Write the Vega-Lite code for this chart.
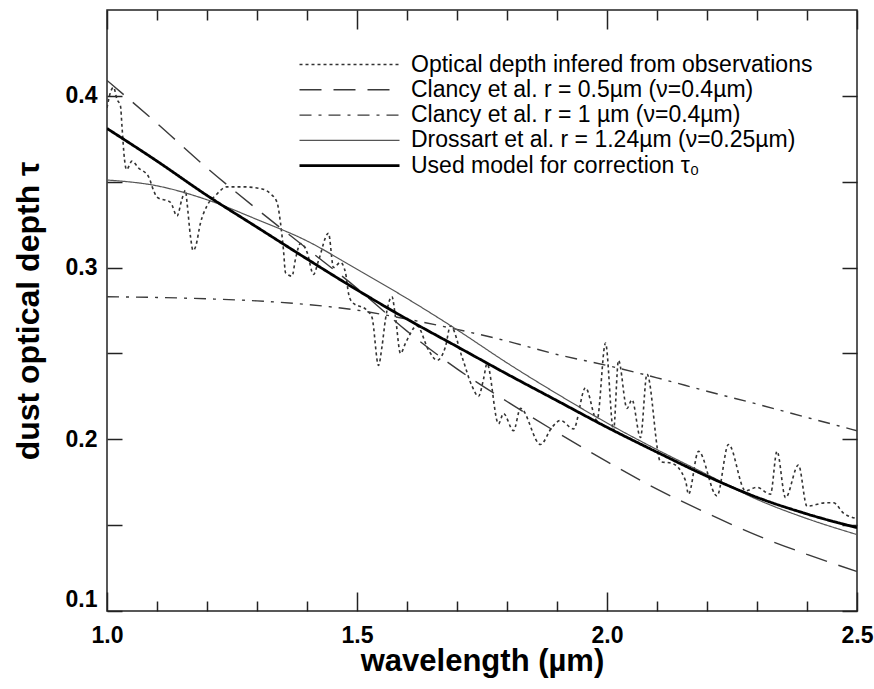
{
  "$schema": "https://vega.github.io/schema/vega-lite/v6.json",
  "width": 750,
  "height": 601,
  "autosize": {"type": "none"},
  "padding": {"left": 107, "top": 10, "right": 17, "bottom": 78},
  "background": "white",
  "config": {
    "font": "Liberation Sans",
    "view": {"stroke": "#222", "strokeWidth": 1.5},
    "axis": {
      "domain": false, "grid": false, "tickColor": "#222", "tickWidth": 1.5,
      "labelFont": "Liberation Sans", "labelFontWeight": "bold", "labelFontSize": 23, "labelColor": "#000",
      "titleFont": "Liberation Sans", "titleFontWeight": "bold", "titleFontSize": 32, "titleColor": "#000",
      "labelOverlap": false
    }
  },
  "data": {"values": [
    {"series": "obs", "wavelength": 1.000, "tau": 0.393},
    {"series": "obs", "wavelength": 1.008, "tau": 0.403},
    {"series": "obs", "wavelength": 1.013, "tau": 0.405},
    {"series": "obs", "wavelength": 1.020, "tau": 0.398},
    {"series": "obs", "wavelength": 1.027, "tau": 0.394},
    {"series": "obs", "wavelength": 1.030, "tau": 0.382},
    {"series": "obs", "wavelength": 1.035, "tau": 0.363},
    {"series": "obs", "wavelength": 1.039, "tau": 0.357},
    {"series": "obs", "wavelength": 1.050, "tau": 0.362},
    {"series": "obs", "wavelength": 1.063, "tau": 0.358},
    {"series": "obs", "wavelength": 1.083, "tau": 0.353},
    {"series": "obs", "wavelength": 1.093, "tau": 0.345},
    {"series": "obs", "wavelength": 1.100, "tau": 0.341},
    {"series": "obs", "wavelength": 1.127, "tau": 0.338},
    {"series": "obs", "wavelength": 1.140, "tau": 0.330},
    {"series": "obs", "wavelength": 1.150, "tau": 0.340},
    {"series": "obs", "wavelength": 1.157, "tau": 0.345},
    {"series": "obs", "wavelength": 1.160, "tau": 0.338},
    {"series": "obs", "wavelength": 1.167, "tau": 0.318},
    {"series": "obs", "wavelength": 1.172, "tau": 0.310},
    {"series": "obs", "wavelength": 1.177, "tau": 0.312},
    {"series": "obs", "wavelength": 1.187, "tau": 0.326},
    {"series": "obs", "wavelength": 1.200, "tau": 0.336},
    {"series": "obs", "wavelength": 1.217, "tau": 0.342},
    {"series": "obs", "wavelength": 1.240, "tau": 0.347},
    {"series": "obs", "wavelength": 1.273, "tau": 0.347},
    {"series": "obs", "wavelength": 1.307, "tau": 0.346},
    {"series": "obs", "wavelength": 1.327, "tau": 0.343},
    {"series": "obs", "wavelength": 1.340, "tau": 0.338},
    {"series": "obs", "wavelength": 1.347, "tau": 0.326},
    {"series": "obs", "wavelength": 1.353, "tau": 0.310},
    {"series": "obs", "wavelength": 1.357, "tau": 0.297},
    {"series": "obs", "wavelength": 1.370, "tau": 0.295},
    {"series": "obs", "wavelength": 1.377, "tau": 0.305},
    {"series": "obs", "wavelength": 1.387, "tau": 0.314},
    {"series": "obs", "wavelength": 1.400, "tau": 0.309},
    {"series": "obs", "wavelength": 1.413, "tau": 0.296},
    {"series": "obs", "wavelength": 1.423, "tau": 0.304},
    {"series": "obs", "wavelength": 1.443, "tau": 0.320},
    {"series": "obs", "wavelength": 1.453, "tau": 0.300},
    {"series": "obs", "wavelength": 1.467, "tau": 0.303},
    {"series": "obs", "wavelength": 1.477, "tau": 0.297},
    {"series": "obs", "wavelength": 1.483, "tau": 0.285},
    {"series": "obs", "wavelength": 1.490, "tau": 0.280},
    {"series": "obs", "wavelength": 1.520, "tau": 0.275},
    {"series": "obs", "wavelength": 1.530, "tau": 0.271},
    {"series": "obs", "wavelength": 1.543, "tau": 0.243},
    {"series": "obs", "wavelength": 1.550, "tau": 0.254},
    {"series": "obs", "wavelength": 1.557, "tau": 0.270},
    {"series": "obs", "wavelength": 1.570, "tau": 0.283},
    {"series": "obs", "wavelength": 1.577, "tau": 0.271},
    {"series": "obs", "wavelength": 1.587, "tau": 0.250},
    {"series": "obs", "wavelength": 1.597, "tau": 0.256},
    {"series": "obs", "wavelength": 1.620, "tau": 0.266},
    {"series": "obs", "wavelength": 1.643, "tau": 0.252},
    {"series": "obs", "wavelength": 1.660, "tau": 0.246},
    {"series": "obs", "wavelength": 1.677, "tau": 0.254},
    {"series": "obs", "wavelength": 1.687, "tau": 0.266},
    {"series": "obs", "wavelength": 1.710, "tau": 0.248},
    {"series": "obs", "wavelength": 1.730, "tau": 0.231},
    {"series": "obs", "wavelength": 1.743, "tau": 0.225},
    {"series": "obs", "wavelength": 1.753, "tau": 0.235},
    {"series": "obs", "wavelength": 1.760, "tau": 0.244},
    {"series": "obs", "wavelength": 1.783, "tau": 0.209},
    {"series": "obs", "wavelength": 1.793, "tau": 0.215},
    {"series": "obs", "wavelength": 1.813, "tau": 0.205},
    {"series": "obs", "wavelength": 1.827, "tau": 0.218},
    {"series": "obs", "wavelength": 1.867, "tau": 0.197},
    {"series": "obs", "wavelength": 1.890, "tau": 0.207},
    {"series": "obs", "wavelength": 1.907, "tau": 0.211},
    {"series": "obs", "wavelength": 1.933, "tau": 0.206},
    {"series": "obs", "wavelength": 1.957, "tau": 0.230},
    {"series": "obs", "wavelength": 1.980, "tau": 0.211},
    {"series": "obs", "wavelength": 1.997, "tau": 0.256},
    {"series": "obs", "wavelength": 2.013, "tau": 0.205},
    {"series": "obs", "wavelength": 2.023, "tau": 0.246},
    {"series": "obs", "wavelength": 2.040, "tau": 0.218},
    {"series": "obs", "wavelength": 2.050, "tau": 0.223},
    {"series": "obs", "wavelength": 2.067, "tau": 0.201},
    {"series": "obs", "wavelength": 2.080, "tau": 0.238},
    {"series": "obs", "wavelength": 2.107, "tau": 0.187},
    {"series": "obs", "wavelength": 2.130, "tau": 0.186},
    {"series": "obs", "wavelength": 2.157, "tau": 0.176},
    {"series": "obs", "wavelength": 2.163, "tau": 0.168},
    {"series": "obs", "wavelength": 2.183, "tau": 0.193},
    {"series": "obs", "wavelength": 2.220, "tau": 0.167},
    {"series": "obs", "wavelength": 2.243, "tau": 0.197},
    {"series": "obs", "wavelength": 2.277, "tau": 0.170},
    {"series": "obs", "wavelength": 2.300, "tau": 0.172},
    {"series": "obs", "wavelength": 2.327, "tau": 0.168},
    {"series": "obs", "wavelength": 2.340, "tau": 0.193},
    {"series": "obs", "wavelength": 2.357, "tau": 0.166},
    {"series": "obs", "wavelength": 2.383, "tau": 0.185},
    {"series": "obs", "wavelength": 2.400, "tau": 0.161},
    {"series": "obs", "wavelength": 2.437, "tau": 0.163},
    {"series": "obs", "wavelength": 2.453, "tau": 0.163},
    {"series": "obs", "wavelength": 2.473, "tau": 0.157},
    {"series": "obs", "wavelength": 2.497, "tau": 0.154},

    {"series": "c05", "wavelength": 1.0, "tau": 0.409},
    {"series": "c05", "wavelength": 1.1, "tau": 0.384},
    {"series": "c05", "wavelength": 1.2, "tau": 0.358},
    {"series": "c05", "wavelength": 1.3, "tau": 0.334},
    {"series": "c05", "wavelength": 1.4, "tau": 0.311},
    {"series": "c05", "wavelength": 1.5, "tau": 0.288},
    {"series": "c05", "wavelength": 1.6, "tau": 0.263},
    {"series": "c05", "wavelength": 1.7, "tau": 0.241},
    {"series": "c05", "wavelength": 1.8, "tau": 0.222},
    {"series": "c05", "wavelength": 1.9, "tau": 0.204},
    {"series": "c05", "wavelength": 2.0, "tau": 0.187},
    {"series": "c05", "wavelength": 2.1, "tau": 0.171},
    {"series": "c05", "wavelength": 2.2, "tau": 0.157},
    {"series": "c05", "wavelength": 2.3, "tau": 0.144},
    {"series": "c05", "wavelength": 2.4, "tau": 0.133},
    {"series": "c05", "wavelength": 2.5, "tau": 0.123},

    {"series": "c1", "wavelength": 1.0, "tau": 0.2830},
    {"series": "c1", "wavelength": 1.1, "tau": 0.2826},
    {"series": "c1", "wavelength": 1.2, "tau": 0.2818},
    {"series": "c1", "wavelength": 1.3, "tau": 0.2806},
    {"series": "c1", "wavelength": 1.4, "tau": 0.2785},
    {"series": "c1", "wavelength": 1.5, "tau": 0.2752},
    {"series": "c1", "wavelength": 1.6, "tau": 0.2700},
    {"series": "c1", "wavelength": 1.7, "tau": 0.2640},
    {"series": "c1", "wavelength": 1.8, "tau": 0.2572},
    {"series": "c1", "wavelength": 1.9, "tau": 0.2494},
    {"series": "c1", "wavelength": 2.0, "tau": 0.2430},
    {"series": "c1", "wavelength": 2.1, "tau": 0.2358},
    {"series": "c1", "wavelength": 2.2, "tau": 0.2280},
    {"series": "c1", "wavelength": 2.3, "tau": 0.2205},
    {"series": "c1", "wavelength": 2.4, "tau": 0.2127},
    {"series": "c1", "wavelength": 2.5, "tau": 0.2050},

    {"series": "dro", "wavelength": 1.0, "tau": 0.3510},
    {"series": "dro", "wavelength": 1.1, "tau": 0.3476},
    {"series": "dro", "wavelength": 1.2, "tau": 0.3395},
    {"series": "dro", "wavelength": 1.3, "tau": 0.3280},
    {"series": "dro", "wavelength": 1.4, "tau": 0.3155},
    {"series": "dro", "wavelength": 1.5, "tau": 0.2990},
    {"series": "dro", "wavelength": 1.6, "tau": 0.2820},
    {"series": "dro", "wavelength": 1.7, "tau": 0.2638},
    {"series": "dro", "wavelength": 1.8, "tau": 0.2445},
    {"series": "dro", "wavelength": 1.9, "tau": 0.2265},
    {"series": "dro", "wavelength": 2.0, "tau": 0.2095},
    {"series": "dro", "wavelength": 2.1, "tau": 0.1940},
    {"series": "dro", "wavelength": 2.2, "tau": 0.1795},
    {"series": "dro", "wavelength": 2.3, "tau": 0.1650},
    {"series": "dro", "wavelength": 2.4, "tau": 0.1538},
    {"series": "dro", "wavelength": 2.5, "tau": 0.1445},

    {"series": "used", "wavelength": 1.0, "tau": 0.3810},
    {"series": "used", "wavelength": 1.1, "tau": 0.3620},
    {"series": "used", "wavelength": 1.2, "tau": 0.3420},
    {"series": "used", "wavelength": 1.3, "tau": 0.3235},
    {"series": "used", "wavelength": 1.4, "tau": 0.3050},
    {"series": "used", "wavelength": 1.5, "tau": 0.2870},
    {"series": "used", "wavelength": 1.6, "tau": 0.2700},
    {"series": "used", "wavelength": 1.7, "tau": 0.2540},
    {"series": "used", "wavelength": 1.8, "tau": 0.2380},
    {"series": "used", "wavelength": 1.9, "tau": 0.2225},
    {"series": "used", "wavelength": 2.0, "tau": 0.2070},
    {"series": "used", "wavelength": 2.1, "tau": 0.1925},
    {"series": "used", "wavelength": 2.2, "tau": 0.1785},
    {"series": "used", "wavelength": 2.3, "tau": 0.1662},
    {"series": "used", "wavelength": 2.4, "tau": 0.1565},
    {"series": "used", "wavelength": 2.5, "tau": 0.1485}
  ]},
  "layer": [
    {
      "mark": {"type": "line", "interpolate": "monotone", "clip": true},
      "encoding": {
        "x": {
          "field": "wavelength", "type": "quantitative",
          "scale": {"domain": [1, 2.5], "nice": false, "zero": false},
          "axis": {
            "orient": "bottom",
            "values": [1.0, 1.1, 1.2, 1.3, 1.4, 1.5, 1.6, 1.7, 1.8, 1.9, 2.0, 2.1, 2.2, 2.3, 2.4, 2.5],
            "labelExpr": "round(datum.value * 10) % 5 === 0 ? format(datum.value, '.1f') : ''",
            "tickSize": {"condition": {"test": "round(datum.value * 10) % 5 === 0", "value": -19}, "value": -10},
            "labelPadding": 32,
            "labelFlush": false,
            "title": "wavelength (µm)",
            "titleFontSize": 31,
            "titlePadding": -10
          }
        },
        "y": {
          "field": "tau", "type": "quantitative",
          "scale": {"domain": [0.1, 0.45], "nice": false, "zero": false},
          "axis": {
            "orient": "left",
            "values": [0.1, 0.15, 0.2, 0.25, 0.3, 0.35, 0.4],
            "labelExpr": "round(datum.value * 100) % 10 === 0 ? format(datum.value, '.1f') : ''",
            "tickSize": -15,
            "labelPadding": 25,
            "labelFlush": true,
            "title": "dust optical depth  τ",
            "titlePadding": 20
          }
        },
        "color": {
          "field": "series", "type": "nominal",
          "scale": {
            "domain": ["obs", "c05", "c1", "dro", "used"],
            "range": ["#333333", "#3a3a3a", "#3a3a3a", "#555555", "#000000"]
          },
          "legend": {
            "title": null,
            "orient": "none",
            "legendX": 231,
            "legendY": 43,
            "symbolType": "M-5,0H5",
            "symbolSize": 400,
            "labelFont": "Liberation Sans",
            "labelFontSize": 23,
            "labelColor": "#000",
            "labelOffset": 50,
            "labelLimit": 700,
            "rowPadding": 1.3,
            "labelExpr": "datum.label === 'obs' ? 'Optical depth infered from observations' : datum.label === 'c05' ? 'Clancy et al. r = 0.5µm (ν=0.4µm)' : datum.label === 'c1' ? 'Clancy et al. r = 1 µm (ν=0.4µm)' : datum.label === 'dro' ? 'Drossart et al. r = 1.24µm (ν=0.25µm)' : 'Used model for correction  τ₀'"
          }
        },
        "strokeDash": {
          "field": "series", "type": "nominal",
          "scale": {
            "domain": ["obs", "c05", "c1", "dro", "used"],
            "range": [[3, 3], [22, 12], [12, 7, 3, 7], [1, 0], [1, 0]]
          }
        },
        "strokeWidth": {
          "field": "series", "type": "nominal",
          "scale": {
            "type": "ordinal",
            "domain": ["obs", "c05", "c1", "dro", "used"],
            "range": [1.6, 1.4, 1.4, 1.2, 2.8]
          }
        }
      }
    },
    {
      "mark": {"type": "line", "opacity": 0},
      "encoding": {
        "x": {
          "field": "wavelength", "type": "quantitative",
          "axis": {
            "orient": "top",
            "values": [1.0, 1.1, 1.2, 1.3, 1.4, 1.5, 1.6, 1.7, 1.8, 1.9, 2.0, 2.1, 2.2, 2.3, 2.4, 2.5],
            "labels": false,
            "tickSize": {"condition": {"test": "round(datum.value * 10) % 5 === 0", "value": -19}, "value": -10},
            "title": null
          }
        },
        "y": {
          "field": "tau", "type": "quantitative",
          "axis": {
            "orient": "right",
            "values": [0.1, 0.15, 0.2, 0.25, 0.3, 0.35, 0.4],
            "labels": false,
            "tickSize": -15,
            "title": null
          }
        },
        "detail": {"field": "series"}
      }
    }
  ]
}
